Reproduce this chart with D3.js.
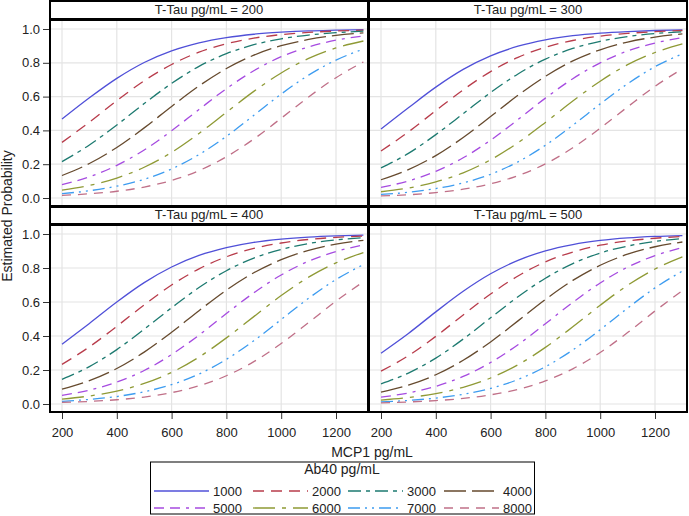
<!DOCTYPE html>
<html><head><meta charset="utf-8">
<script src="https://cdn.jsdelivr.net/npm/d3@7"></script>
<style>
html,body{margin:0;padding:0;background:#fff;}
svg{display:block;font-family:"Liberation Sans",Arial,sans-serif;}
</style></head>
<body><svg id="chart" width="689" height="516"></svg>
<script>
// ---------- data ----------
const mcp1 = [200,300,400,500,600,700,800,900,1000,1100,1200,1300];
const ab40 = [1000,2000,3000,4000,5000,6000,7000,8000];
const ttau = [200,300,400,500];
const xTicks = [200,400,600,800,1000,1200];
const yTicks = [0,0.2,0.4,0.6,0.8,1.0];

const probTTau200 = [
 [0.467,0.593,0.708,0.802,0.871,0.918,0.949,0.969,0.981,0.989,0.993,0.996],
 [0.329,0.449,0.576,0.694,0.790,0.863,0.913,0.946,0.967,0.980,0.988,0.993],
 [0.215,0.314,0.432,0.559,0.678,0.779,0.854,0.907,0.942,0.964,0.978,0.987],
 [0.133,0.204,0.299,0.415,0.542,0.663,0.766,0.845,0.901,0.938,0.962,0.977],
 [0.079,0.125,0.193,0.284,0.398,0.524,0.647,0.753,0.836,0.894,0.934,0.959],
 [0.046,0.074,0.118,0.182,0.270,0.382,0.507,0.631,0.740,0.826,0.888,0.929],
 [0.026,0.043,0.070,0.111,0.172,0.257,0.365,0.489,0.615,0.727,0.816,0.881],
 [0.015,0.025,0.040,0.065,0.104,0.162,0.244,0.349,0.472,0.598,0.712,0.805]
];
const probTTau300 = [
 [0.408,0.534,0.656,0.761,0.841,0.898,0.936,0.961,0.976,0.985,0.991,0.995],
 [0.278,0.391,0.517,0.640,0.748,0.832,0.892,0.932,0.958,0.974,0.984,0.991],
 [0.178,0.264,0.375,0.499,0.624,0.734,0.822,0.885,0.927,0.955,0.973,0.983],
 [0.108,0.168,0.251,0.358,0.482,0.608,0.720,0.811,0.877,0.923,0.952,0.971],
 [0.063,0.101,0.158,0.238,0.342,0.464,0.591,0.706,0.800,0.870,0.917,0.949],
 [0.037,0.059,0.095,0.149,0.226,0.327,0.447,0.574,0.691,0.789,0.861,0.912],
 [0.021,0.034,0.056,0.089,0.140,0.214,0.312,0.430,0.557,0.676,0.777,0.853],
 [0.012,0.019,0.032,0.052,0.084,0.132,0.202,0.297,0.413,0.539,0.661,0.764]
];
const probTTau400 = [
 [0.351,0.474,0.600,0.714,0.806,0.874,0.920,0.951,0.970,0.982,0.989,0.993],
 [0.233,0.336,0.457,0.583,0.700,0.795,0.866,0.915,0.947,0.968,0.980,0.988],
 [0.145,0.220,0.320,0.440,0.566,0.685,0.784,0.858,0.909,0.944,0.965,0.979],
 [0.087,0.137,0.209,0.305,0.422,0.549,0.670,0.772,0.849,0.904,0.940,0.963],
 [0.051,0.081,0.129,0.197,0.291,0.405,0.532,0.654,0.759,0.840,0.897,0.936],
 [0.029,0.047,0.076,0.121,0.186,0.276,0.389,0.514,0.638,0.746,0.830,0.891],
 [0.016,0.027,0.044,0.072,0.114,0.176,0.263,0.372,0.497,0.622,0.732,0.820],
 [0.009,0.015,0.025,0.041,0.067,0.107,0.166,0.249,0.356,0.479,0.605,0.719]
];
const probTTau500 = [
 [0.299,0.415,0.542,0.663,0.766,0.845,0.901,0.938,0.962,0.977,0.986,0.991],
 [0.193,0.284,0.398,0.524,0.647,0.753,0.836,0.894,0.934,0.959,0.975,0.985],
 [0.118,0.182,0.270,0.382,0.507,0.631,0.740,0.826,0.888,0.929,0.956,0.973],
 [0.070,0.111,0.172,0.257,0.365,0.489,0.615,0.727,0.816,0.881,0.925,0.953],
 [0.040,0.065,0.104,0.162,0.244,0.349,0.472,0.598,0.712,0.805,0.873,0.920],
 [0.023,0.038,0.061,0.098,0.153,0.231,0.333,0.454,0.581,0.698,0.794,0.865],
 [0.013,0.021,0.035,0.057,0.092,0.144,0.219,0.318,0.437,0.564,0.683,0.782],
 [0.007,0.012,0.020,0.033,0.054,0.086,0.136,0.207,0.303,0.420,0.547,0.667]
];
const panelData = [probTTau200, probTTau300, probTTau400, probTTau500];

// ---------- styles ----------
const colors = ["#5050D8","#B83C4B","#1D7A70","#664A2E","#A64BE0","#8F9A35","#3D9CF0","#C07088"];
const dashes = ["none","11,7","13,5,4,5","22,6","10,6,10,6,3,6","22,7,4,7","12,5,2,5,2,5","9,7"];

const svg = d3.select("#chart");
const TXT = "#222";

const cols = [{x0:50,x1:368},{x0:369,x1:687}];
const rows = [{hy0:1,hy1:19,py0:20,py1:206},{hy0:207,hy1:224,py0:225,py1:412}];

const panels = [];
ttau.forEach((t,i)=>panels.push({t, data:panelData[i], col:cols[i%2], row:rows[Math.floor(i/2)], ci:i%2, ri:Math.floor(i/2)}));

panels.forEach(p=>{
  const x = d3.scaleLinear().domain([200,1300]).range([p.col.x0+12, p.col.x0+12+301.4]);
  const y = d3.scaleLinear().domain([0,1]).range([p.row.py1-8, p.row.py0+9]);
  const g = svg.append("g");
  // grid
  g.selectAll(".gx").data(xTicks).enter().append("line")
    .attr("x1",d=>x(d)).attr("x2",d=>x(d)).attr("y1",p.row.py0).attr("y2",p.row.py1)
    .attr("stroke","#e4e4e4").attr("stroke-width",1.2);
  g.selectAll(".gy").data(yTicks).enter().append("line")
    .attr("y1",d=>y(d)).attr("y2",d=>y(d)).attr("x1",p.col.x0).attr("x2",p.col.x1)
    .attr("stroke","#e4e4e4").attr("stroke-width",1.2);
  // curves
  const line = d3.line().x((d,i)=>x(mcp1[i])).y(d=>y(d)).curve(d3.curveMonotoneX);
  p.data.forEach((vals,k)=>{
    g.append("path").attr("d",line(vals)).attr("fill","none")
      .attr("stroke",colors[k]).attr("stroke-width",1.3)
      .attr("stroke-dasharray",dashes[k]);
  });
  // header
  g.append("rect").attr("x",p.col.x0).attr("y",p.row.hy0).attr("width",p.col.x1-p.col.x0)
    .attr("height",p.row.hy1-p.row.hy0).attr("fill","none").attr("stroke","#000").attr("stroke-width",2);
  g.append("text").attr("x",(p.col.x0+p.col.x1)/2).attr("y",p.row.hy1-5)
    .attr("text-anchor","middle").attr("font-size",13).attr("fill",TXT)
    .text("T-Tau pg/mL = "+p.t);
  // plot frame
  g.append("rect").attr("x",p.col.x0).attr("y",p.row.py0).attr("width",p.col.x1-p.col.x0)
    .attr("height",p.row.py1-p.row.py0).attr("fill","none").attr("stroke","#000").attr("stroke-width",2);
  // axes
  if(p.ci===0){
    const ay = d3.axisLeft(y).tickValues(yTicks).tickFormat(d3.format(".1f")).tickSize(6).tickPadding(3);
    const ga = g.append("g").attr("transform",`translate(${p.col.x0-1},0)`).call(ay);
    ga.select(".domain").remove();
    ga.selectAll("text").attr("font-size",13).attr("fill",TXT).attr("font-family","Liberation Sans, Arial, sans-serif");
    ga.selectAll("line").attr("stroke","#333");
  }
  if(p.ri===1){
    const ax = d3.axisBottom(x).tickValues(xTicks).tickFormat(d3.format("d")).tickSize(6).tickPadding(9);
    const ga = g.append("g").attr("transform",`translate(0,${p.row.py1+1})`).call(ax);
    ga.select(".domain").remove();
    ga.selectAll("text").attr("font-size",13).attr("fill",TXT).attr("font-family","Liberation Sans, Arial, sans-serif");
    ga.selectAll("line").attr("stroke","#333");
  }
});

// axis titles
svg.append("text").attr("x",372).attr("y",457).attr("text-anchor","middle")
  .attr("font-size",14).attr("fill",TXT).text("MCP1 pg/mL");
svg.append("text").attr("transform","translate(12,216) rotate(-90)").attr("text-anchor","middle")
  .attr("font-size",14).attr("fill",TXT).text("Estimated Probability");

// legend
const lg = svg.append("g");
lg.append("rect").attr("x",150.5).attr("y",462).attr("width",384).attr("height",52)
  .attr("fill","none").attr("stroke","#000").attr("stroke-width",1);
lg.append("text").attr("x",342).attr("y",474).attr("text-anchor","middle")
  .attr("font-size",14).attr("fill",TXT).text("Ab40 pg/mL");
const colX = [154,253,348,444];
const rowY = [491,508];
ab40.forEach((a,k)=>{
  const cx = colX[k%4], cy = rowY[Math.floor(k/4)];
  lg.append("line").attr("x1",cx).attr("x2",cx+55).attr("y1",cy).attr("y2",cy)
    .attr("stroke",colors[k]).attr("stroke-width",1.3).attr("stroke-dasharray",dashes[k]);
  lg.append("text").attr("x",cx+59).attr("y",cy+4.5).attr("font-size",13).attr("fill",TXT).text(a);
});
</script></body></html>
